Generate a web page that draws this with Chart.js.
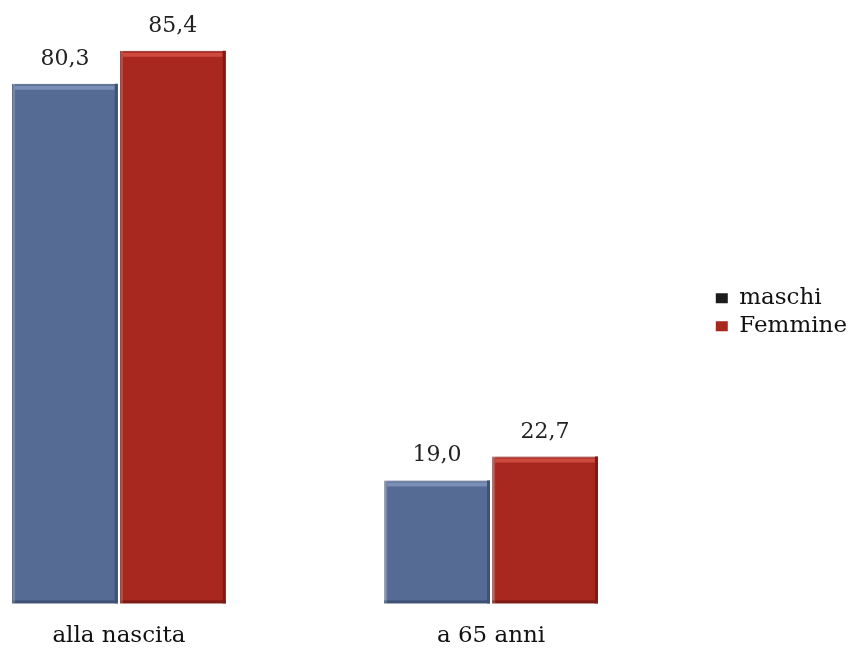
<!DOCTYPE html>
<html>
<head>
<meta charset="utf-8">
<script src="https://cdn.jsdelivr.net/npm/chart.js@4"></script>
<style>
  html, body { margin: 0; padding: 0; background: #fff; }
  #wrap { width: 853px; height: 651px; }
</style>
</head>
<body>
<div id="wrap"><canvas id="chart"></canvas></div>
<script>
// data
const categories = ["alla nascita", "a 65 anni"];
const maschi = [80.3, 19.0];
const femmine = [85.4, 22.7];
const seriesNames = ["maschi", "Femmine"];

const fontFam = "'DejaVu Serif', serif";

// value labels above bars, comma decimals
const valueLabels = {
  id: "valueLabels",
  afterDatasetsDraw(chart) {
    const ctx = chart.ctx;
    ctx.save();
    ctx.font = "22px " + fontFam;
    ctx.fillStyle = "#222";
    ctx.textAlign = "center";
    ctx.textBaseline = "alphabetic";
    chart.data.datasets.forEach((ds, i) => {
      chart.getDatasetMeta(i).data.forEach((bar, j) => {
        const txt = ds.data[j].y.toFixed(1).replace(".", ",");
        ctx.fillText(txt, bar.x, bar.y - 19);
      });
    });
    ctx.restore();
  }
};

// simple bevel: light strip on top, darker edges
const bevel = {
  id: "bevel",
  afterDatasetsDraw(chart) {
    const ctx = chart.ctx;
    ctx.save();
    chart.data.datasets.forEach((ds, i) => {
      chart.getDatasetMeta(i).data.forEach(bar => {
        const { x, y, base, width } = bar.getProps(["x", "y", "base", "width"], true);
        const l = x - width / 2, r = x + width / 2;
        ctx.fillStyle = ds.highlight;
        ctx.fillRect(l + 3, y + 2, width - 6, 4);
        ctx.fillStyle = ds.edge;
        ctx.fillRect(r - 3, y, 3, base - y);
        ctx.fillRect(l, base - 3, width, 3);
        ctx.fillStyle = "rgba(255,255,255,0.18)";
        ctx.fillRect(l, y, 3, base - y);
      });
    });
    ctx.restore();
  }
};

const toPoints = arr => arr.map((v, i) => ({ x: i, y: v }));

new Chart(document.getElementById("chart"), {
  type: "bar",
  data: {
    datasets: [
      {
        label: seriesNames[0],
        data: toPoints(maschi),
        backgroundColor: "#566b93",
        borderColor: "#3d4f72",
        borderWidth: 1,
        highlight: "#7a8fb6",
        edge: "#3f5177",
        legendColor: "#1c1c1c"
      },
      {
        label: seriesNames[1],
        data: toPoints(femmine),
        backgroundColor: "#a8271f",
        borderColor: "#7d1a14",
        borderWidth: 1,
        highlight: "#cf4a3e",
        edge: "#7f1b15",
        legendColor: "#a8271f"
      }
    ]
  },
  options: {
    responsive: true,
    maintainAspectRatio: false,
    animation: false,
    layout: { padding: { top: 21, bottom: -18, left: 0, right: -4 } },
    datasets: { bar: { categoryPercentage: 0.58, barPercentage: 0.98 } },
    plugins: {
      tooltip: { enabled: false },
      legend: {
        position: "right",
        fullSize: false,
        labels: {
          font: { family: fontFam, size: 23 },
          color: "#111",
          boxWidth: 12,
          boxHeight: 10,
          padding: 5,
          generateLabels(chart) {
            return chart.data.datasets.map((ds, i) => ({
              text: ds.label,
              fillStyle: ds.legendColor,
              strokeStyle: ds.legendColor,
              lineWidth: 0,
              datasetIndex: i,
              fontColor: "#111"
            }));
          }
        }
      }
    },
    scales: {
      x: {
        type: "linear",
        min: -0.3194,
        max: 1.5903,
        offset: false,
        grid: { display: false, drawTicks: false },
        border: { display: false },
        ticks: {
          stepSize: 1,
          includeBounds: false,
          padding: 19,
          color: "#111",
          font: { family: fontFam, size: 23 },
          autoSkip: false,
          maxRotation: 0,
          callback: v => (Number.isInteger(v) && categories[v] !== undefined) ? categories[v] : ""
        }
      },
      y: {
        display: false,
        min: 0,
        max: 90
      }
    }
  },
  plugins: [bevel, valueLabels]
});
</script>
</body>
</html>
